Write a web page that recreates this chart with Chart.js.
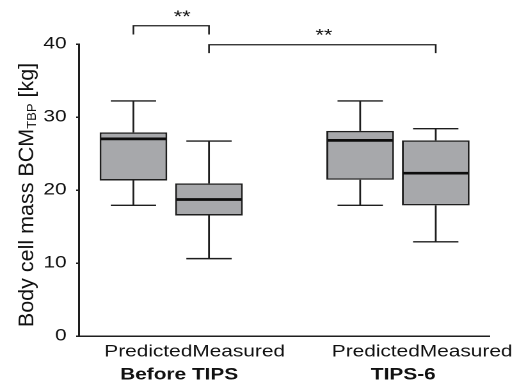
<!DOCTYPE html>
<html>
<head>
<meta charset="utf-8">
<script src="https://cdn.jsdelivr.net/npm/chart.js@4.4.1/dist/chart.umd.min.js"></script>
<style>
  html, body { margin: 0; background: #fff; }
</style>
</head>
<body>
<!-- the chart is laid out narrow and widened to the page, which gives the wide lettering of the figure -->
<canvas id="bcm" width="411" height="389" style="display:block;width:526px;height:389px"></canvas>
<script>
const groups = ['Before TIPS', 'TIPS-6'];
const measures = ['Predicted', 'Measured'];

// one entry per box: Before/Predicted, Before/Measured, TIPS-6/Predicted, TIPS-6/Measured (kg)
const whiskerLow    = [17.9, 10.6, 17.9, 12.9];
const lowerQuartile = [21.3, 16.5, 21.4, 17.9];
const median        = [27.0, 18.7, 26.8, 22.3];
const upperQuartile = [27.9, 20.9, 28.1, 26.8];
const whiskerHigh   = [32.2, 26.7, 32.2, 28.4];

const yTicks = [0, 10, 20, 30, 40];

// compared boxes and their significance marks
const comparisons = [
  {from: 0, to: 1, mark: '**'},
  {from: 1, to: 3, mark: '**'}
];

// boxes sit at 1,2 and 4,5 on the x scale, leaving a gap between the groups
const slots = [];
groups.forEach((g, gi) => measures.forEach((m, mi) => slots.push(gi * 3 + mi + 1)));

const INK = '#1e1e1e';
const FONT = '"Liberation Sans", Arial, Helvetica, sans-serif';
Chart.defaults.font.family = FONT;
Chart.defaults.color = '#111';

const whiskers = {
  id: 'whiskers',
  afterDatasetsDraw(chart) {
    const {ctx, scales: {y}} = chart;
    const bars = chart.getDatasetMeta(0).data;
    ctx.save();
    bars.forEach((bar, i) => {
      const half = bar.width / 2;
      const cap = bar.width * 0.335;
      const hi = y.getPixelForValue(whiskerHigh[i]);
      const lo = y.getPixelForValue(whiskerLow[i]);
      ctx.strokeStyle = INK;
      ctx.lineWidth = 1.4;
      ctx.beginPath();
      ctx.moveTo(bar.x, y.getPixelForValue(upperQuartile[i]));
      ctx.lineTo(bar.x, hi);
      ctx.moveTo(bar.x - cap, hi);
      ctx.lineTo(bar.x + cap, hi);
      ctx.moveTo(bar.x, y.getPixelForValue(lowerQuartile[i]));
      ctx.lineTo(bar.x, lo);
      ctx.moveTo(bar.x - cap, lo);
      ctx.lineTo(bar.x + cap, lo);
      ctx.stroke();

      const med = y.getPixelForValue(median[i]);
      ctx.strokeStyle = '#0d0d0d';
      ctx.lineWidth = 2.7;
      ctx.beginPath();
      ctx.moveTo(bar.x - half + 1, med);
      ctx.lineTo(bar.x + half - 1, med);
      ctx.stroke();
    });
    ctx.restore();
  }
};

const brackets = {
  id: 'brackets',
  afterDraw(chart, args, opts) {
    const {ctx, scales: {x, y}} = chart;
    ctx.save();
    ctx.strokeStyle = INK;
    ctx.lineWidth = 1.3;
    ctx.fillStyle = '#111';
    ctx.font = '17px ' + FONT;
    ctx.textAlign = 'center';
    comparisons.forEach((c, k) => {
      const lvl = opts.levels[k];
      const x1 = x.getPixelForValue(slots[c.from]);
      const x2 = x.getPixelForValue(slots[c.to]);
      const top = y.getPixelForValue(lvl.at);
      const foot = y.getPixelForValue(lvl.at - lvl.drop);
      ctx.beginPath();
      ctx.moveTo(x1, foot);
      ctx.lineTo(x1, top);
      ctx.lineTo(x2, top);
      ctx.lineTo(x2, foot);
      ctx.stroke();
      ctx.fillText(c.mark, x.getPixelForValue(lvl.markAt), top - 4);
    });
    ctx.restore();
  }
};

// y title with subscript, drawn upright against the page widening
const yTitle = {
  id: 'yTitle',
  afterDraw(chart) {
    const {ctx, chartArea} = chart;
    const sx = chart.canvas.clientWidth / chart.width;
    const big = '21.5px ' + FONT;
    const small = '13px ' + FONT;
    const parts = [['Body cell mass BCM', big, 0], ['TBP', small, 2.5], [' [kg]', big, 0]];
    ctx.save();
    let total = 0;
    parts.forEach(([t, f]) => { ctx.font = f; total += ctx.measureText(t).width; });
    ctx.translate(chartArea.left - 35.7, (chartArea.top + chartArea.bottom) / 2 + 5);
    ctx.scale(1 / sx, 1);
    ctx.rotate(-Math.PI / 2);
    ctx.fillStyle = '#111';
    ctx.textBaseline = 'alphabetic';
    let pos = -total / 2;
    parts.forEach(([t, f, dy]) => {
      ctx.font = f;
      ctx.fillText(t, pos, dy);
      pos += ctx.measureText(t).width;
    });
    ctx.restore();
  }
};

new Chart(document.getElementById('bcm'), {
  type: 'bar',
  data: {
    datasets: [{
      data: slots.map((s, i) => ({x: s, y: [lowerQuartile[i], upperQuartile[i]]})),
      backgroundColor: '#a7a8ab',
      borderColor: INK,
      borderWidth: 1.5,
      borderSkipped: false,
      barPercentage: 0.895,
      categoryPercentage: 1
    }]
  },
  options: {
    responsive: false,
    devicePixelRatio: 2,
    animation: false,
    layout: {padding: {top: 44, right: 26.6, bottom: 0, left: 0}},
    plugins: {
      legend: {display: false},
      tooltip: {enabled: false},
      brackets: {
        levels: [
          {at: 42.5, drop: 1.2, markAt: 1.645},
          {at: 39.9, drop: 1.15, markAt: 3.52}
        ]
      }
    },
    scales: {
      x: {
        type: 'linear',
        offset: false,
        min: 0.276,
        max: 5.711,
        weight: 0,
        grid: {display: false, drawTicks: false, offset: false},
        border: {display: true, color: INK, width: 1.5},
        ticks: {
          padding: 6.2,
          maxRotation: 0,
          autoSkip: false,
          font: {size: 16.3},
          callback: () => measures.join('')
        },
        afterBuildTicks: s => { s.ticks = [1.81, 4.82].map(value => ({value})); },
        afterFit: s => { s.height = 27; }
      },
      x2: {
        type: 'linear',
        position: 'bottom',
        offset: false,
        min: 0.276,
        max: 5.711,
        weight: 1,
        grid: {display: false, drawTicks: false, offset: false},
        border: {display: false},
        ticks: {
          padding: 2.2,
          maxRotation: 0,
          autoSkip: false,
          font: {size: 16.3, weight: 'bold'},
          callback: (v, i) => groups[i]
        },
        afterBuildTicks: s => { s.ticks = [1.605, 4.57].map(value => ({value})); },
        afterFit: s => { s.height = 26; }
      },
      y: {
        min: 0,
        max: 40,
        grid: {display: true, drawOnChartArea: false, drawTicks: true, tickLength: 2, color: INK, lineWidth: 1.5},
        border: {color: INK, width: 1.5},
        ticks: {padding: 7.5, font: {size: 16.3}},
        afterBuildTicks: s => { s.ticks = yTicks.map(value => ({value})); },
        afterFit: s => { s.width = 61.5; }
      }
    }
  },
  plugins: [whiskers, brackets, yTitle]
});
</script>
</body>
</html>
